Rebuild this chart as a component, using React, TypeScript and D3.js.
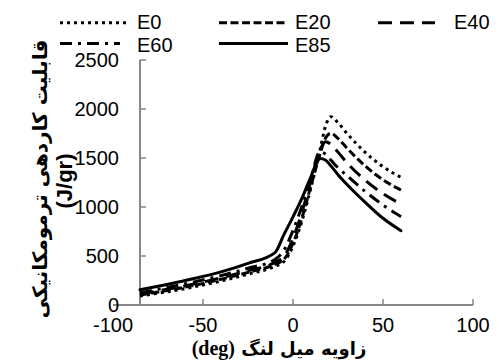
import React from "react";
import * as d3 from "d3";

const angles = [-85, -70, -55, -40, -25, -10, -5, 0, 5, 10, 15, 18, 21, 25, 30, 40, 50, 60];
const E0 = [92, 135, 185, 245, 315, 395, 445, 600, 860, 1200, 1580, 1820, 1921, 1860, 1750, 1560, 1411, 1303];
const E20 = [102, 148, 200, 262, 333, 415, 465, 630, 890, 1220, 1540, 1700, 1752, 1700, 1600, 1420, 1277, 1173];
const E40 = [112, 160, 214, 278, 350, 435, 495, 680, 950, 1270, 1580, 1667, 1640, 1560, 1450, 1275, 1135, 1030];
const E60 = [125, 178, 235, 300, 375, 465, 560, 760, 1010, 1300, 1565, 1540, 1480, 1400, 1320, 1160, 1020, 901];
const E85 = [155, 210, 270, 338, 425, 535, 720, 900, 1090, 1310, 1495, 1480, 1420, 1330, 1230, 1050, 885, 758];

const seriesNames = ["E0", "E20", "E40", "E60", "E85"];
const seriesValues = [E0, E20, E40, E60, E85];
const xTicks = [-100, -50, 0, 50, 100];
const yTicks = [0, 500, 1000, 1500, 2000, 2500];
const xTitle = "زاویه میل لنگ";
const xUnit = "(deg)";
const yTitle = "قابلیت کاردهی ترمومکانیکی";
const yUnit = "(J/gr)";

const dashes = ["3,4", "8,3.5", "14,8", "12,6,3,6", "none"];
const caps = ["butt", "butt", "butt", "butt", "round"];

export default function App() {
  const W = 499, H = 360;
  const x = d3.scaleLinear().domain([-100, 100]).range([113, 473]);
  const y = d3.scaleLinear().domain([0, 2500]).range([305, 60]);
  const line = d3
    .line<number>()
    .x((_, i) => x(angles[i]))
    .y((d) => y(d))
    .curve(d3.curveMonotoneX);
  const axisColor = "#878787";
  const yAxisX = x(angles[0]);
  const font = "'Liberation Sans', Arial, 'DejaVu Sans', sans-serif";
  const legendPos = [
    { lx1: 60, lx2: 128, tx: 137, ly: 22.7, ty: 28.5 },
    { lx1: 219, lx2: 288, tx: 295, ly: 22.7, ty: 28.5 },
    { lx1: 378, lx2: 435, tx: 454, ly: 22.7, ty: 28.5 },
    { lx1: 60, lx2: 120, tx: 137, ly: 43.5, ty: 51.5 },
    { lx1: 219, lx2: 288, tx: 295, ly: 43.5, ty: 51.5 },
  ];
  return (
    <svg
      width={W}
      height={H}
      style={{ position: "absolute", left: 0, top: 0, background: "#fff" }}
      fontFamily={font}
    >
      <rect x={0} y={0} width={W} height={H} fill="#fff" />
      {/* x axis */}
      <line x1={x(-100)} x2={x(100)} y1={y(0)} y2={y(0)} stroke={axisColor} strokeWidth={2} />
      {xTicks.slice(1).map((t) => (
        <line key={"xt" + t} x1={x(t)} x2={x(t)} y1={y(0)} y2={y(0) - 6} stroke={axisColor} strokeWidth={1.5} />
      ))}
      {xTicks.map((t) => (
        <text key={"xl" + t} x={x(t)} y={332} textAnchor="middle" fontSize={20} fill="#000">
          {t}
        </text>
      ))}
      {/* y axis */}
      <line x1={yAxisX} x2={yAxisX} y1={y(0)} y2={y(2500)} stroke={axisColor} strokeWidth={2} />
      {yTicks.map((t) => (
        <line key={"yt" + t} x1={yAxisX} x2={yAxisX + 6} y1={y(t)} y2={y(t)} stroke={axisColor} strokeWidth={1.5} />
      ))}
      {yTicks.map((t) => (
        <text key={"yl" + t} x={119} y={y(t) + 6.5} textAnchor="end" fontSize={20} fill="#000">
          {t}
        </text>
      ))}
      {/* series */}
      {seriesValues.map((vals, i) => (
        <path
          key={seriesNames[i]}
          d={line(vals) || ""}
          fill="none"
          stroke="#000"
          strokeWidth={3}
          strokeDasharray={dashes[i]}
          strokeLinecap={caps[i] as any}
        />
      ))}
      {/* legend */}
      {seriesNames.map((n, i) => {
        const p = legendPos[i];
        return (
          <g key={"lg" + n}>
            <line
              x1={p.lx1}
              x2={p.lx2}
              y1={p.ly}
              y2={p.ly}
              stroke="#000"
              strokeWidth={3}
              strokeDasharray={dashes[i]}
            />
            <text x={p.tx} y={p.ty} fontSize={20} fill="#000">
              {n}
            </text>
          </g>
        );
      })}
      {/* axis titles */}
      <text x={279} y={355} textAnchor="middle" fontWeight="bold" fill="#000">
        <tspan fontSize={20} fontFamily="'Liberation Serif', 'Times New Roman', serif">{xUnit}</tspan>
        <tspan fontSize={18} fontFamily="'DejaVu Sans', sans-serif"> {xTitle}</tspan>
      </text>
      <text
        transform="translate(40,179) rotate(-90)"
        textAnchor="middle"
        dominantBaseline="central"
        fontSize={20}
        fontWeight="bold"
        fontFamily="'DejaVu Sans', sans-serif"
        fill="#000"
      >
        {yTitle}
      </text>
      <text
        transform="translate(64,181) rotate(-90)"
        textAnchor="middle"
        dominantBaseline="central"
        fontSize={22}
        fontWeight="bold"
        fill="#000"
      >
        {yUnit}
      </text>
    </svg>
  );
}
